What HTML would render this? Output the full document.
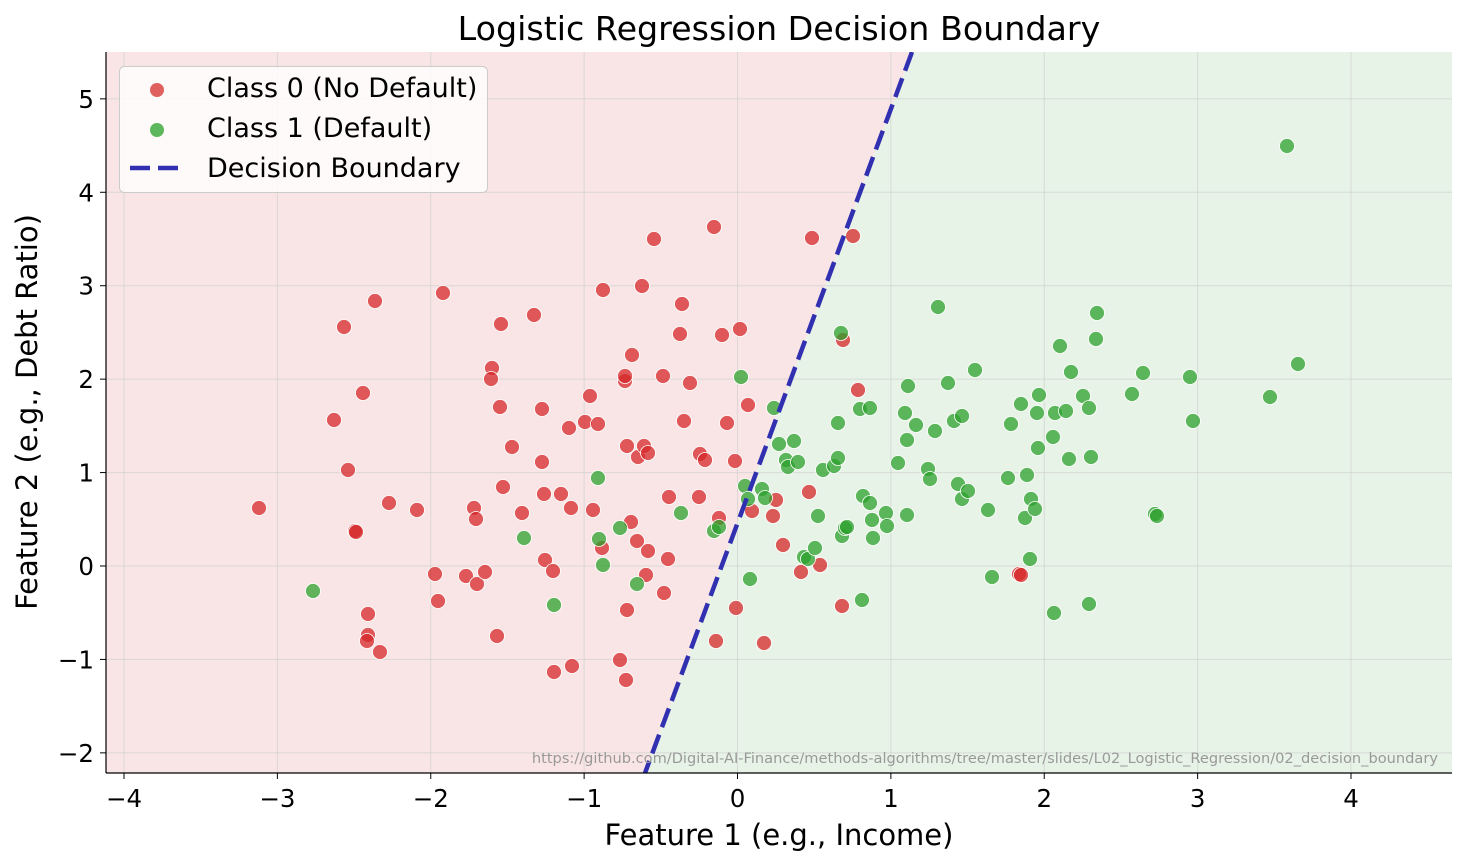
<!DOCTYPE html><html><head><meta charset="utf-8"><style>body{margin:0;background:#fff}svg{display:block;font-family:"DejaVu Sans",sans-serif}</style></head><body>
<svg id="s" width="1468" height="867" xmlns="http://www.w3.org/2000/svg">
<defs><clipPath id="c"><rect x="106" y="52" width="1346" height="721"/></clipPath></defs>
<rect width="1468" height="867" fill="#fff"/>
<polygon points="106,52 912,52 645,773 106,773" fill="#f9e5e5"/>
<polygon points="912,52 1452,52 1452,773 645,773" fill="#e7f3e7"/>
<g id="grid" stroke="#d0d0d0" stroke-opacity="0.7" stroke-width="1"></g>
<g id="pts" clip-path="url(#c)"></g>
<line x1="912" y1="52" x2="645" y2="773" stroke="#3030b0" stroke-width="4.5" stroke-dasharray="20,8" clip-path="url(#c)"/>
<line x1="106" y1="52" x2="106" y2="773" stroke="#000" stroke-width="1.2"/>
<line x1="106" y1="773" x2="1452" y2="773" stroke="#000" stroke-width="1.2"/>
<g id="ticks" font-size="24.5" fill="#000"></g>
<text x="779" y="40" font-size="33.3" text-anchor="middle">Logistic Regression Decision Boundary</text>
<text x="779" y="845" font-size="29" text-anchor="middle">Feature 1 (e.g., Income)</text>
<text transform="translate(37,412) rotate(-90)" font-size="29" text-anchor="middle">Feature 2 (e.g., Debt Ratio)</text>
<text x="1438" y="763" font-size="14.6" fill="#999" text-anchor="end">https://github.com/Digital-AI-Finance/methods-algorithms/tree/master/slides/L02_Logistic_Regression/02_decision_boundary</text>
<rect x="119.5" y="66.5" width="368" height="126" rx="5" fill="#fff" fill-opacity="0.8" stroke="#ccc"/>
<circle cx="157" cy="90" r="7" fill="#e06060"/>
<circle cx="157" cy="130" r="7" fill="#5db85d"/>
<line x1="130" y1="168" x2="185" y2="168" stroke="#3030b0" stroke-width="4.5" stroke-dasharray="20,8"/>
<text x="207" y="97" font-size="27">Class 0 (No Default)</text>
<text x="207" y="137" font-size="27">Class 1 (Default)</text>
<text x="207" y="177" font-size="27">Decision Boundary</text>
</svg>
<script>
const ns="http://www.w3.org/2000/svg",g=document.getElementById('grid'),t=document.getElementById('ticks'),p=document.getElementById('pts');
function el(tag,a,par,txt){const e=document.createElementNS(ns,tag);for(const k in a)e.setAttribute(k,a[k]);if(txt!==undefined)e.textContent=txt;par.appendChild(e);return e;}
for(let v=-4;v<=4;v++){const x=737.5+v*153.375;el('line',{x1:x,y1:52,x2:x,y2:773},g);el('line',{x1:x,y1:773,x2:x,y2:779,stroke:'#000'},t);el('text',{x:x,y:807,'text-anchor':'middle'},t,(v<0?'\u2212'+(-v):String(v)));}
for(let v=-2;v<=5;v++){const y=566-v*93.43;el('line',{x1:106,y1:y,x2:1452,y2:y},g);el('line',{x1:100,y1:y,x2:106,y2:y,stroke:'#000'},t);el('text',{x:94,y:y+9,'text-anchor':'end'},t,(v<0?'\u2212'+(-v):String(v)));}
const R=[[259,508],[334,420],[348,470],[344,327],[363,393],[375,301],[355,531],[356,532],[389,503],[417,510],[368,614],[368,635],[367,641],[380,652],[443,293],[435,574],[438,601],[466,576],[477,584],[485,572],[474,508],[476,519],[503,487],[512,447],[492,368],[491,379],[500,407],[501,324],[522,513],[497,636],[534,315],[542,409],[542,462],[544,494],[545,560],[553,571],[561,494],[571,508],[569,428],[585,422],[590,396],[598,424],[593,510],[602,548],[603,290],[632,355],[625,381],[625,376],[627,446],[631,522],[637,541],[638,457],[644,446],[648,453],[642,286],[648,551],[646,575],[627,610],[620,660],[626,680],[554,672],[572,666],[654,239],[663,376],[669,497],[668,559],[664,593],[684,421],[680,334],[682,304],[690,383],[699,497],[700,454],[705,460],[714,227],[722,335],[727,423],[740,329],[735,461],[748,405],[752,511],[736,608],[719,518],[716,641],[764,643],[776,500],[773,516],[783,545],[812,238],[809,492],[801,572],[820,565],[843,340],[858,390],[853,236],[842,606],[1019,574],[1021,575]];
const G=[[313,591],[524,538],[554,605],[598,478],[599,539],[603,565],[620,528],[637,584],[681,513],[714,531],[719,527],[741,377],[745,486],[748,499],[750,579],[762,489],[765,498],[774,408],[779,444],[786,460],[788,467],[794,441],[798,462],[804,557],[808,559],[815,548],[818,516],[823,470],[834,466],[838,423],[838,458],[841,333],[842,536],[845,528],[847,527],[860,409],[870,408],[862,600],[863,496],[870,503],[872,520],[873,538],[886,513],[887,526],[898,463],[905,413],[907,440],[907,515],[908,386],[916,425],[928,469],[930,479],[935,431],[938,307],[948,383],[954,421],[958,484],[962,416],[962,499],[968,491],[975,370],[988,510],[992,577],[1008,478],[1011,424],[1021,404],[1025,518],[1027,475],[1030,559],[1031,499],[1035,509],[1038,448],[1039,395],[1037,413],[1053,437],[1054,613],[1055,413],[1060,346],[1066,411],[1069,459],[1071,372],[1083,396],[1089,604],[1089,408],[1091,457],[1096,339],[1097,313],[1132,394],[1143,373],[1155,514],[1157,516],[1190,377],[1193,421],[1270,397],[1287,146],[1298,364]];
R.forEach(a=>el('circle',{cx:a[0],cy:a[1],r:7.5,fill:'#d62728','fill-opacity':0.75,stroke:'#fff','stroke-width':0.8},p));
G.forEach(a=>el('circle',{cx:a[0],cy:a[1],r:7.5,fill:'#2ca02c','fill-opacity':0.75,stroke:'#fff','stroke-width':0.8},p));
</script>
</body></html>
